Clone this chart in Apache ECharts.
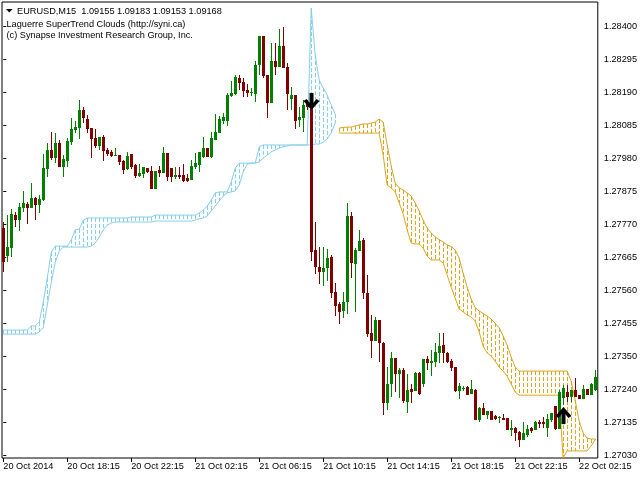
<!DOCTYPE html>
<html><head><meta charset="utf-8">
<script src="https://cdn.jsdelivr.net/npm/echarts@6/dist/echarts.min.js"></script>
<style>html,body{margin:0;padding:0;background:#fff}#c{width:640px;height:480px}</style>
</head><body><div id="c"></div>
<script>
// ---- axis labels ----
const timeLabels = ['20 Oct 2014','20 Oct 18:15','20 Oct 22:15','21 Oct 02:15','21 Oct 06:15','21 Oct 10:15','21 Oct 14:15','21 Oct 18:15','21 Oct 22:15','22 Oct 02:15'];
const timeLabelBars = [0,16,32,48,64,80,96,112,128,144];
const priceLabels = ['1.28400','1.28295','1.28190','1.28085','1.27980','1.27875','1.27770','1.27665','1.27560','1.27455','1.27350','1.27240','1.27135','1.27030'];
const priceTickValues = [1.284000,1.282946,1.281892,1.280838,1.279785,1.278731,1.277677,1.276623,1.275569,1.274515,1.273462,1.272408,1.271354,1.270300];

// ---- candles (M15) ----
const open = [1.27756,1.27666,1.27692,1.27797,1.27781,1.27820,1.27832,1.27820,1.27852,1.27829,
1.27845,1.27944,1.28005,1.27979,1.28027,1.27951,1.27970,1.28030,1.28069,1.28075,
1.28133,1.28104,1.28075,1.28043,1.28018,1.28046,1.28005,1.27999,1.27987,1.27989,
1.27970,1.27944,1.27992,1.27957,1.27922,1.27928,1.27947,1.27938,1.27880,1.27941,
1.27931,1.27995,1.27947,1.27919,1.27925,1.27925,1.27916,1.27909,1.27951,1.27957,
1.27983,1.28011,1.27983,1.28037,1.28059,1.28098,1.28098,1.28177,1.28184,1.28234,
1.28222,1.28197,1.28187,1.28184,1.28276,1.28369,1.28244,1.28155,1.28289,1.28270,
1.28337,1.28270,1.28168,1.28181,1.28101,1.28107,1.28155,1.28152,1.27686,1.27631,
1.27615,1.27628,1.27663,1.27551,1.27513,1.27491,1.27520,1.27794,1.27641,1.27682,
1.27718,1.27548,1.27420,1.27395,1.27462,1.27389,1.27197,1.27258,1.27341,1.27290,
1.27302,1.27200,1.27242,1.27235,1.27293,1.27258,1.27338,1.27325,1.27328,1.27357,
1.27382,1.27357,1.27331,1.27312,1.27235,1.27242,1.27248,1.27226,1.27238,1.27143,
1.27181,1.27159,1.27171,1.27155,1.27151,1.27149,1.27149,1.27111,1.27117,1.27104,
1.27079,1.27095,1.27117,1.27111,1.27136,1.27136,1.27117,1.27143,1.27187,1.27114,
1.27213,1.27232,1.27216,1.27238,1.27222,1.27210,1.27242,1.27222,1.27238];
const high = [1.27775,1.27797,1.27817,1.27807,1.27836,1.27874,1.27839,1.27900,1.27855,1.27861,
1.27992,1.28027,1.28062,1.28059,1.28037,1.27989,1.28043,1.28107,1.28098,1.28165,
1.28142,1.28117,1.28075,1.28072,1.28046,1.28053,1.28011,1.28005,1.28011,1.27989,
1.27973,1.27999,1.27992,1.27960,1.27960,1.27951,1.27947,1.27954,1.27938,1.27954,
1.28015,1.27995,1.27947,1.27951,1.27951,1.27960,1.27928,1.27973,1.27995,1.27999,
1.28046,1.28011,1.28062,1.28120,1.28113,1.28123,1.28187,1.28225,1.28244,1.28244,
1.28234,1.28216,1.28203,1.28289,1.28369,1.28369,1.28244,1.28346,1.28346,1.28391,
1.28398,1.28282,1.28206,1.28181,1.28142,1.28165,1.28165,1.28165,1.27775,1.27695,
1.27695,1.27689,1.27670,1.27580,1.27520,1.27551,1.27836,1.27807,1.27692,1.27750,
1.27724,1.27606,1.27478,1.27472,1.27462,1.27392,1.27312,1.27360,1.27341,1.27309,
1.27309,1.27290,1.27258,1.27296,1.27296,1.27338,1.27347,1.27366,1.27389,1.27420,
1.27420,1.27360,1.27338,1.27312,1.27261,1.27251,1.27251,1.27270,1.27242,1.27184,
1.27197,1.27171,1.27171,1.27159,1.27155,1.27162,1.27149,1.27143,1.27120,1.27108,
1.27136,1.27127,1.27120,1.27139,1.27143,1.27152,1.27162,1.27165,1.27187,1.27238,
1.27254,1.27254,1.27238,1.27277,1.27222,1.27254,1.27242,1.27261,1.27302];
const low = [1.27615,1.27647,1.27663,1.27759,1.27746,1.27807,1.27769,1.27820,1.27781,1.27804,
1.27842,1.27919,1.27973,1.27963,1.27951,1.27919,1.27951,1.28021,1.28059,1.28040,
1.28091,1.28059,1.27979,1.28011,1.28005,1.27970,1.27986,1.27983,1.27986,1.27957,
1.27928,1.27941,1.27944,1.27916,1.27919,1.27916,1.27931,1.27880,1.27880,1.27919,
1.27931,1.27906,1.27903,1.27912,1.27912,1.27903,1.27903,1.27909,1.27944,1.27935,
1.27979,1.27983,1.27979,1.28037,1.28059,1.28088,1.28082,1.28174,1.28181,1.28197,
1.28174,1.28174,1.28177,1.28158,1.28244,1.28234,1.28107,1.28155,1.28244,1.28270,
1.28266,1.28133,1.28133,1.28072,1.28078,1.28062,1.28133,1.27650,1.27609,1.27577,
1.27571,1.27587,1.27532,1.27475,1.27449,1.27468,1.27481,1.27596,1.27488,1.27682,
1.27529,1.27408,1.27341,1.27395,1.27328,1.27159,1.27175,1.27216,1.27232,1.27213,
1.27197,1.27165,1.27197,1.27235,1.27222,1.27248,1.27302,1.27283,1.27312,1.27325,
1.27325,1.27325,1.27299,1.27232,1.27210,1.27235,1.27222,1.27226,1.27143,1.27136,
1.27159,1.27146,1.27143,1.27143,1.27133,1.27143,1.27111,1.27092,1.27076,1.27056,
1.27079,1.27088,1.27101,1.27111,1.27117,1.27117,1.27088,1.27136,1.27111,1.27114,
1.27191,1.27200,1.27200,1.27216,1.27210,1.27210,1.27222,1.27222,1.27235];
const close = [1.27647,1.27695,1.27801,1.27781,1.27823,1.27836,1.27820,1.27852,1.27829,1.27849,
1.27947,1.28005,1.27979,1.28027,1.27951,1.27976,1.28034,1.28072,1.28078,1.28133,
1.28107,1.28072,1.28040,1.28018,1.28046,1.28002,1.27992,1.27986,1.27989,1.27967,
1.27941,1.27986,1.27951,1.27922,1.27931,1.27951,1.27935,1.27880,1.27938,1.27931,
1.27995,1.27919,1.27919,1.27925,1.27919,1.27906,1.27906,1.27954,1.27963,1.27999,
1.28011,1.27983,1.28043,1.28062,1.28104,1.28110,1.28181,1.28187,1.28238,1.28219,
1.28193,1.28187,1.28190,1.28276,1.28369,1.28241,1.28155,1.28289,1.28270,1.28337,
1.28266,1.28184,1.28181,1.28098,1.28110,1.28149,1.28142,1.27679,1.27631,1.27615,
1.27628,1.27660,1.27548,1.27507,1.27488,1.27520,1.27794,1.27644,1.27686,1.27714,
1.27548,1.27417,1.27395,1.27462,1.27389,1.27197,1.27258,1.27341,1.27290,1.27302,
1.27203,1.27238,1.27232,1.27293,1.27226,1.27338,1.27325,1.27331,1.27360,1.27379,
1.27357,1.27328,1.27309,1.27235,1.27251,1.27245,1.27222,1.27242,1.27143,1.27181,
1.27159,1.27171,1.27143,1.27146,1.27152,1.27143,1.27111,1.27117,1.27101,1.27079,
1.27101,1.27114,1.27108,1.27136,1.27130,1.27130,1.27146,1.27165,1.27114,1.27232,
1.27245,1.27216,1.27238,1.27216,1.27210,1.27242,1.27222,1.27258,1.27280];

// ---- Laguerre SuperTrend cloud, uptrend (blue), bars 0..83 ----
const blueStart = 0;
const blueUpper = [1.27430,1.27430,1.27430,1.27430,1.27430,1.27430,1.27430,1.27443,1.27443,1.27456,
1.27520,1.27596,1.27679,1.27698,1.27698,1.27698,1.27698,1.27718,1.27750,1.27753,
1.27781,1.27788,1.27788,1.27788,1.27788,1.27788,1.27788,1.27788,1.27788,1.27788,
1.27788,1.27788,1.27791,1.27791,1.27791,1.27791,1.27791,1.27791,1.27797,1.27797,
1.27797,1.27797,1.27797,1.27797,1.27797,1.27797,1.27797,1.27797,1.27797,1.27804,
1.27813,1.27826,1.27845,1.27868,1.27871,1.27871,1.27871,1.27903,1.27947,1.27963,
1.27963,1.27963,1.27963,1.27963,1.28015,1.28021,1.28021,1.28021,1.28021,1.28021,
1.28021,1.28021,1.28021,1.28021,1.28021,1.28021,1.28021,1.28458,1.28308,1.28228,
1.28203,1.28181,1.28149,1.28120];
const blueLower = [1.27417,1.27417,1.27417,1.27417,1.27417,1.27417,1.27417,1.27417,1.27417,1.27424,
1.27437,1.27510,1.27583,1.27647,1.27682,1.27695,1.27695,1.27695,1.27695,1.27695,
1.27695,1.27695,1.27698,1.27708,1.27727,1.27750,1.27765,1.27772,1.27775,1.27775,
1.27775,1.27775,1.27775,1.27775,1.27775,1.27775,1.27775,1.27775,1.27778,1.27778,
1.27778,1.27778,1.27778,1.27778,1.27778,1.27778,1.27778,1.27778,1.27781,1.27785,
1.27788,1.27794,1.27810,1.27826,1.27842,1.27858,1.27868,1.27871,1.27874,1.27893,
1.27935,1.27960,1.27963,1.27963,1.27967,1.27979,1.27989,1.27999,1.28005,1.28011,
1.28015,1.28018,1.28021,1.28021,1.28021,1.28021,1.28021,1.28021,1.28024,1.28024,
1.28030,1.28040,1.28059,1.28091];

// ---- cloud, downtrend (orange), bars 84..148 ----
const orangeStart = 84;
const orangeUpper = [1.28075,1.28077,1.28078,1.28078,1.28082,1.28085,1.28088,1.28088,1.28091,1.28094,
1.28104,1.28094,1.28021,1.27954,1.27900,1.27884,1.27877,1.27868,1.27858,1.27836,
1.27810,1.27781,1.27756,1.27740,1.27727,1.27719,1.27711,1.27702,1.27697,1.27686,
1.27660,1.27612,1.27567,1.27529,1.27502,1.27491,1.27483,1.27475,1.27465,1.27452,
1.27437,1.27411,1.27382,1.27344,1.27312,1.27299,1.27299,1.27299,1.27299,1.27299,
1.27299,1.27299,1.27299,1.27299,1.27299,1.27299,1.27299,1.27299,1.27267,1.27207,
1.27140,1.27101,1.27085,1.27082,1.27082];
const orangeLower = [1.28059,1.28059,1.28059,1.28059,1.28059,1.28059,1.28059,1.28059,1.28059,1.28059,
1.28059,1.27989,1.27893,1.27884,1.27871,1.27836,1.27801,1.27750,1.27708,1.27705,
1.27705,1.27692,1.27666,1.27654,1.27654,1.27654,1.27644,1.27606,1.27567,1.27532,
1.27497,1.27488,1.27478,1.27472,1.27459,1.27424,1.27379,1.27357,1.27347,1.27331,
1.27312,1.27299,1.27283,1.27258,1.27232,1.27222,1.27222,1.27222,1.27222,1.27222,
1.27222,1.27222,1.27222,1.27222,1.27222,1.27222,1.27022,1.27044,1.27044,1.27044,
1.27044,1.27044,1.27044,1.27060,1.27079];

// ---- signal arrows: [bar, price, direction] ----
const arrowBars = [77, 140];
const arrowPrices = [1.28133, 1.27184];
const arrowDirs = [-1, 1];

const GREEN = '#008000', RED = '#800000', BLUE = '#87CEEB', GOLD = '#DAA520';
const FONT = 'Liberation Sans', FS = 9.2;

const candleData = open.map((o, i) => [i, o, high[i], low[i], close[i]]);
const blueU = blueUpper.map((v, k) => [blueStart + k, v]);
const blueL = blueLower.map((v, k) => [blueStart + k, v]);
const orU = orangeUpper.map((v, k) => [orangeStart + k, v]);
const orL = orangeLower.map((v, k) => [orangeStart + k, v]);
const blueHatch = blueUpper.map((v, k) => [blueStart + k, v, blueLower[k]]);
const orHatch = orangeUpper.map((v, k) => [orangeStart + k, v, orangeLower[k]]);
const arrowData = arrowBars.map((b, k) => [b, arrowPrices[k], arrowDirs[k]]);

function hatchRender(color) {
  return function (params, api) {
    const i = api.value(0);
    const p1 = api.coord([i, api.value(1)]);
    const p2 = api.coord([i, api.value(2)]);
    const x = Math.floor(p1[0]) + 0.5;
    return { type: 'line', shape: { x1: x, y1: p1[1], x2: x, y2: p2[1] },
      style: { stroke: color, lineWidth: 1, lineDash: [4, 2] } };
  };
}
function candleRender(params, api) {
  const i = api.value(0), o = api.value(1), h = api.value(2), l = api.value(3), c = api.value(4);
  const pO = api.coord([i, o]), pC = api.coord([i, c]), pH = api.coord([i, h]), pL = api.coord([i, l]);
  const cx = Math.floor(pO[0]);
  const color = c >= o ? GREEN : RED;
  const top = Math.round(Math.min(pO[1], pC[1])), bot = Math.round(Math.max(pO[1], pC[1]));
  const hy = Math.round(pH[1]), ly = Math.round(pL[1]);
  return { type: 'group', children: [
    { type: 'rect', shape: { x: cx, y: hy, width: 1, height: Math.max(1, ly - hy) }, style: { fill: color } },
    { type: 'rect', shape: { x: cx - 1, y: top, width: 3, height: Math.max(1, bot - top) }, style: { fill: color } }
  ] };
}
function arrowRender(params, api) {
  const i = api.value(0), p = api.value(1), d = api.value(2);
  const pt = api.coord([i, p]);
  const tx = Math.floor(pt[0]) + 0.5, ty = pt[1];
  const s = d; // -1 down arrow (tip at bottom), 1 up arrow (tip at top)
  const head = [[-8, 9], [-5, 11], [0, 5], [5, 11], [8, 9], [0, 0]].map(q => [tx + q[0], ty + s * -1 * -q[1] * -1]);
  const h2 = [[-8, 9], [-5, 11], [0, 5], [5, 11], [8, 9], [0, 0]].map(q => [tx + q[0], ty - s * -q[1] * -1 * -1]);
  const pts = [[-8, 9], [-5, 11], [0, 5], [5, 11], [8, 9], [0, 0]].map(q => [tx + q[0], ty + (d > 0 ? q[1] : -q[1])]);
  const shaftY = d > 0 ? ty + 5 : ty - 17;
  return { type: 'group', children: [
    { type: 'rect', shape: { x: tx - 2, y: shaftY, width: 4, height: 12 }, style: { fill: '#000' } },
    { type: 'polygon', shape: { points: pts }, style: { fill: '#000' } }
  ] };
}

const chart = echarts.init(document.getElementById('c'), null, { renderer: 'canvas' });
chart.setOption({
  animation: false,
  backgroundColor: '#fff',
  grid: { left: 2, right: 42, top: 2, bottom: 22, show: true, borderColor: '#000', borderWidth: 1, backgroundColor: '#fff' },
  xAxis: {
    type: 'value', min: -0.325, max: 148.675,
    splitLine: { show: false }, axisLine: { show: false },
    axisTick: { show: true, length: 4, lineStyle: { color: '#000' }, customValues: timeLabelBars },
    axisLabel: { customValues: timeLabelBars, align: 'left', margin: 4, color: '#000', fontSize: FS, fontFamily: FONT,
      formatter: v => { const k = timeLabelBars.indexOf(Math.round(v)); return k >= 0 ? timeLabels[k] : ''; } }
  },
  yAxis: {
    type: 'value', position: 'right', min: 1.2702138, max: 1.2847761, scale: true,
    splitLine: { show: false }, axisLine: { show: false },
    axisTick: { show: true, length: 3, lineStyle: { color: '#000' }, customValues: priceTickValues },
    axisLabel: { customValues: priceTickValues, margin: 6, color: '#000', fontSize: FS, fontFamily: FONT,
      formatter: v => { const k = priceTickValues.findIndex(t => Math.abs(t - v) < 1e-6); return k >= 0 ? priceLabels[k] : ''; } }
  },
  series: [
    { type: 'custom', name: 'blueHatch', data: blueHatch, renderItem: hatchRender(BLUE), encode: { x: 0, y: [1, 2] }, z: 1, clip: true, silent: true },
    { type: 'custom', name: 'orangeHatch', data: orHatch, renderItem: hatchRender(GOLD), encode: { x: 0, y: [1, 2] }, z: 1, clip: true, silent: true },
    { type: 'line', data: blueU, showSymbol: false, lineStyle: { color: BLUE, width: 1 }, z: 2, silent: true },
    { type: 'line', data: blueL, showSymbol: false, lineStyle: { color: BLUE, width: 1 }, z: 2, silent: true },
    { type: 'line', data: orU, showSymbol: false, lineStyle: { color: GOLD, width: 1 }, z: 2, silent: true },
    { type: 'line', data: orL, showSymbol: false, lineStyle: { color: GOLD, width: 1 }, z: 2, silent: true },
    { type: 'custom', name: 'candles', data: candleData, renderItem: candleRender, encode: { x: 0, y: [1, 2, 3, 4] }, z: 3, clip: true, silent: true },
    { type: 'custom', name: 'arrows', data: arrowData, renderItem: arrowRender, encode: { x: 0, y: 1 }, z: 4, clip: true, silent: true }
  ],
  graphic: [
    { type: 'polygon', z: 100, shape: { points: [[6, 9], [12.5, 9], [9.25, 12.5]] }, style: { fill: '#000' } },
    { type: 'text', z: 100, x: 17, y: 11, style: { text: 'EURUSD,M15  1.09155 1.09183 1.09153 1.09168', fontSize: FS, fontFamily: FONT, fill: '#000', verticalAlign: 'middle' } },
    { type: 'text', z: 100, x: 6.5, y: 24, style: { text: 'Laguerre SuperTrend Clouds (http://syni.ca)', fontSize: FS, fontFamily: FONT, fill: '#000', verticalAlign: 'middle' } },
    { type: 'text', z: 100, x: 6.5, y: 35.5, style: { text: '(c) Synapse Investment Research Group, Inc.', fontSize: FS, fontFamily: FONT, fill: '#000', verticalAlign: 'middle' } }
  ]
});
</script>
</body></html>
